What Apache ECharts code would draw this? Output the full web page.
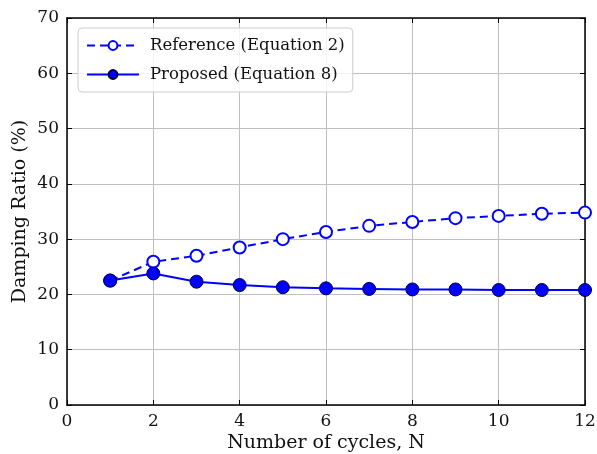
<!DOCTYPE html>
<html>
<head>
<meta charset="utf-8">
<script src="https://cdn.jsdelivr.net/npm/echarts@6/dist/echarts.min.js"></script>
<style>
html, body { margin: 0; padding: 0; background: #fff; }
#container { width: 597px; height: 454px; }
</style>
</head>
<body>
<div id="container"></div>
<script>
var cycles = [1, 2, 3, 4, 5, 6, 7, 8, 9, 10, 11, 12];
var referenceRatio = [22.5, 25.9, 27.0, 28.5, 30.0, 31.3, 32.4, 33.1, 33.8, 34.2, 34.6, 34.8];
var proposedRatio = [22.5, 23.8, 22.3, 21.7, 21.3, 21.1, 21.0, 20.9, 20.9, 20.8, 20.8, 20.8];
var seriesNames = ['Reference (Equation 2)', 'Proposed (Equation 8)'];

var font = 'DejaVu Serif';

function pairs(xs, ys) {
    return xs.map(function (x, i) { return [x, ys[i]]; });
}

window.onload = function () {
var myChart = echarts.init(document.getElementById('container'));
var axisCommon = {
    axisLine: { show: true, onZero: false, lineStyle: { color: '#000', width: 1.5 } },
    axisTick: { show: true, inside: true, length: 5, lineStyle: { color: '#000' } },
    axisLabel: { color: '#111', fontFamily: font, fontSize: 17 },
    nameTextStyle: { color: '#111', fontFamily: font, fontSize: 19 }
};
var option = {
    animation: false,
    textStyle: { fontFamily: font },
    grid: { left: 67, right: 12, top: 18, bottom: 49, outerBoundsMode: 'none', containLabel: false },
    legend: {
        left: 78, top: 28,
        orient: 'vertical',
        itemWidth: 52, itemHeight: 11, itemGap: 12,
        padding: [9, 8, 9, 8],
        borderColor: '#ccc', borderWidth: 1, borderRadius: 4,
        backgroundColor: 'rgba(255,255,255,0.8)',
        textStyle: { fontFamily: font, fontSize: 16.5, color: '#111', padding: [0, 0, 0, 6] },
        data: seriesNames
    },
    xAxis: [
        Object.assign({}, axisCommon, {
            type: 'value', min: 0, max: 12, interval: 2,
            name: 'Number of cycles, N', nameLocation: 'middle', nameGap: 29,
            nameMoveOverlap: false,
            splitLine: { show: true, lineStyle: { color: '#c0c0c0', width: 1 } }
        }),
        Object.assign({}, axisCommon, {
            type: 'value', min: 0, max: 12, interval: 2, position: 'top',
            axisLabel: { show: false }, splitLine: { show: false }
        })
    ],
    yAxis: [
        Object.assign({}, axisCommon, {
            type: 'value', min: 0, max: 70, interval: 10,
            name: 'Damping Ratio (%)', nameLocation: 'middle', nameGap: 37,
            nameMoveOverlap: false,
            splitLine: { show: true, lineStyle: { color: '#c0c0c0', width: 1 } }
        }),
        Object.assign({}, axisCommon, {
            type: 'value', min: 0, max: 70, interval: 10, position: 'right',
            axisLabel: { show: false }, splitLine: { show: false }
        })
    ],
    series: [
        {
            name: seriesNames[0],
            type: 'line',
            data: pairs(cycles, referenceRatio),
            symbol: 'circle', symbolSize: 12,
            lineStyle: { color: '#0000ff', width: 2, type: [8, 5] },
            itemStyle: { color: '#fff', borderColor: '#0000ff', borderWidth: 2 },
            z: 3
        },
        {
            name: seriesNames[1],
            type: 'line',
            data: pairs(cycles, proposedRatio),
            symbol: 'circle', symbolSize: 13,
            lineStyle: { color: '#0000ff', width: 2 },
            itemStyle: { color: '#0000ff', borderColor: '#000033', borderWidth: 1 },
            z: 4
        }
    ]
};
myChart.setOption(option);
};
</script>
</body>
</html>
